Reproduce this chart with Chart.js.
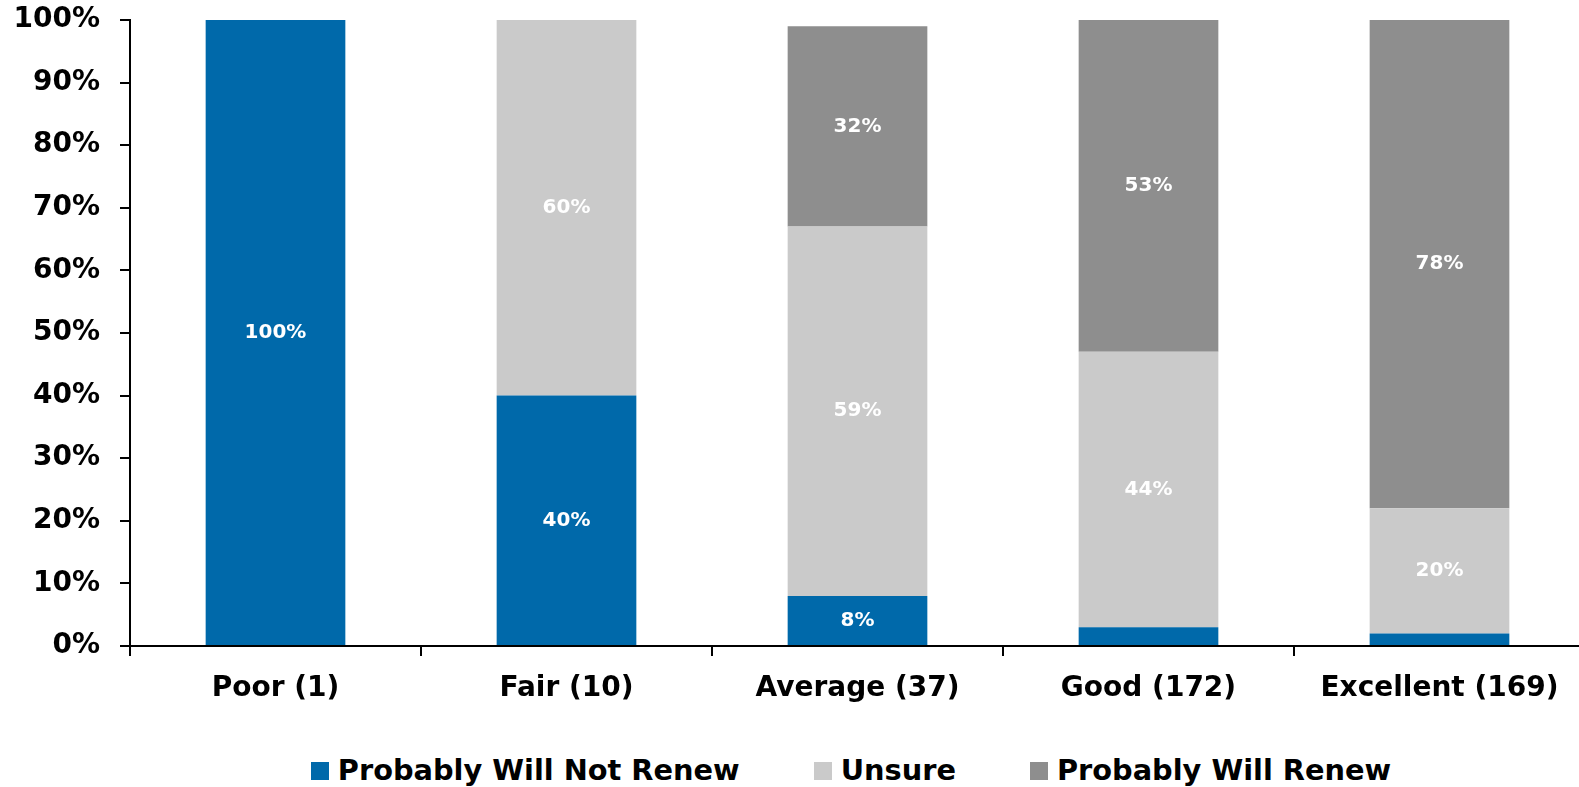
<!DOCTYPE html>
<html><head><meta charset="utf-8">
<script src="https://cdn.jsdelivr.net/npm/chart.js@4.4.0/dist/chart.umd.min.js"></script>
<style>
html,body{margin:0;padding:0;background:#fff;overflow:hidden;width:1579px;height:787px;position:relative}
#wrap{position:absolute;left:0;top:0;width:1590px;height:740px}
#legend{position:absolute;top:753px;left:0;width:1702px;display:flex;justify-content:center;gap:74px;font:bold 28.8px "DejaVu Sans", sans-serif;color:#000;white-space:nowrap}
#legend .it{display:flex;align-items:center}
#legend .sw{width:18px;height:18px;margin-right:9px;margin-top:2px}
</style></head>
<body>
<div id="wrap"><canvas id="c"></canvas></div>
<div id="legend"></div>
<script>
const categories = ['Poor (1)', 'Fair (10)', 'Average (37)', 'Good (172)', 'Excellent (169)'];
const seriesNames = ['Probably Will Not Renew', 'Unsure', 'Probably Will Renew'];
const willNotRenew = [100, 40, 8, 3, 2];
const unsure = [0, 60, 59, 44, 20];
const willRenew = [0, 0, 32, 53, 78];
const yTicks = [0, 10, 20, 30, 40, 50, 60, 70, 80, 90, 100];
const colors = ['#0069AA', '#CACACA', '#8E8E8E'];

const FONT = '"DejaVu Sans", sans-serif';

const valueLabels = {
  id: 'valueLabels',
  afterDatasetsDraw(chart) {
    const ctx = chart.ctx;
    ctx.save();
    ctx.font = 'bold 20px ' + FONT;
    ctx.fillStyle = '#fff';
    ctx.textAlign = 'center';
    ctx.textBaseline = 'middle';
    chart.data.datasets.forEach((ds, i) => {
      const meta = chart.getDatasetMeta(i);
      meta.data.forEach((bar, j) => {
        const v = ds.data[j];
        if (!v || v < 5) return;
        const p = bar.getProps(['x', 'y', 'base'], true);
        ctx.fillText(v + '%', p.x, (p.y + p.base) / 2);
      });
    });
    ctx.restore();
  }
};

const seriesData = [willNotRenew, unsure, willRenew];
new Chart(document.getElementById('c'), {
  type: 'bar',
  data: {
    labels: categories,
    datasets: seriesNames.map((n, i) => ({
      label: n,
      data: seriesData[i],
      backgroundColor: colors[i],
      borderWidth: 0,
      barPercentage: 0.48,
      categoryPercentage: 1
    }))
  },
  options: {
    responsive: true,
    maintainAspectRatio: false,
    animation: false,
    layout: { padding: { top: 0, right: 5, bottom: 0, left: 0 } },
    plugins: { legend: { display: false }, tooltip: { enabled: false } },
    scales: {
      x: {
        stacked: true,
        grid: { drawOnChartArea: false, drawTicks: true, tickLength: 10, color: '#000', lineWidth: 2 },
        border: { color: '#000', width: 2 },
        ticks: { color: '#000', font: { family: FONT, size: 28, weight: 'bold' }, padding: 16, maxRotation: 0, autoSkip: false },
        afterFit(s) { s.height = 94; s.paddingLeft = 0; s.paddingRight = 0; }
      },
      y: {
        stacked: true,
        min: 0, max: 100,
        afterBuildTicks(s) { s.ticks = yTicks.map(v => ({ value: v })); },
        grid: { drawOnChartArea: false, drawTicks: true, tickLength: 10, color: '#000', lineWidth: 2 },
        border: { color: '#000', width: 2 },
        ticks: { color: '#000', font: { family: FONT, size: 28, weight: 'bold' }, padding: 20, callback: v => v + '%' },
        afterFit(s) { s.width = 130; s.paddingTop = 20; s.paddingBottom = 0; }
      }
    }
  },
  plugins: [valueLabels]
});

const lg = document.getElementById('legend');
seriesNames.forEach((n, i) => {
  const it = document.createElement('div'); it.className = 'it';
  const sw = document.createElement('span'); sw.className = 'sw'; sw.style.background = colors[i];
  const t = document.createElement('span'); t.textContent = n;
  it.appendChild(sw); it.appendChild(t); lg.appendChild(it);
});
</script>
</body></html>
